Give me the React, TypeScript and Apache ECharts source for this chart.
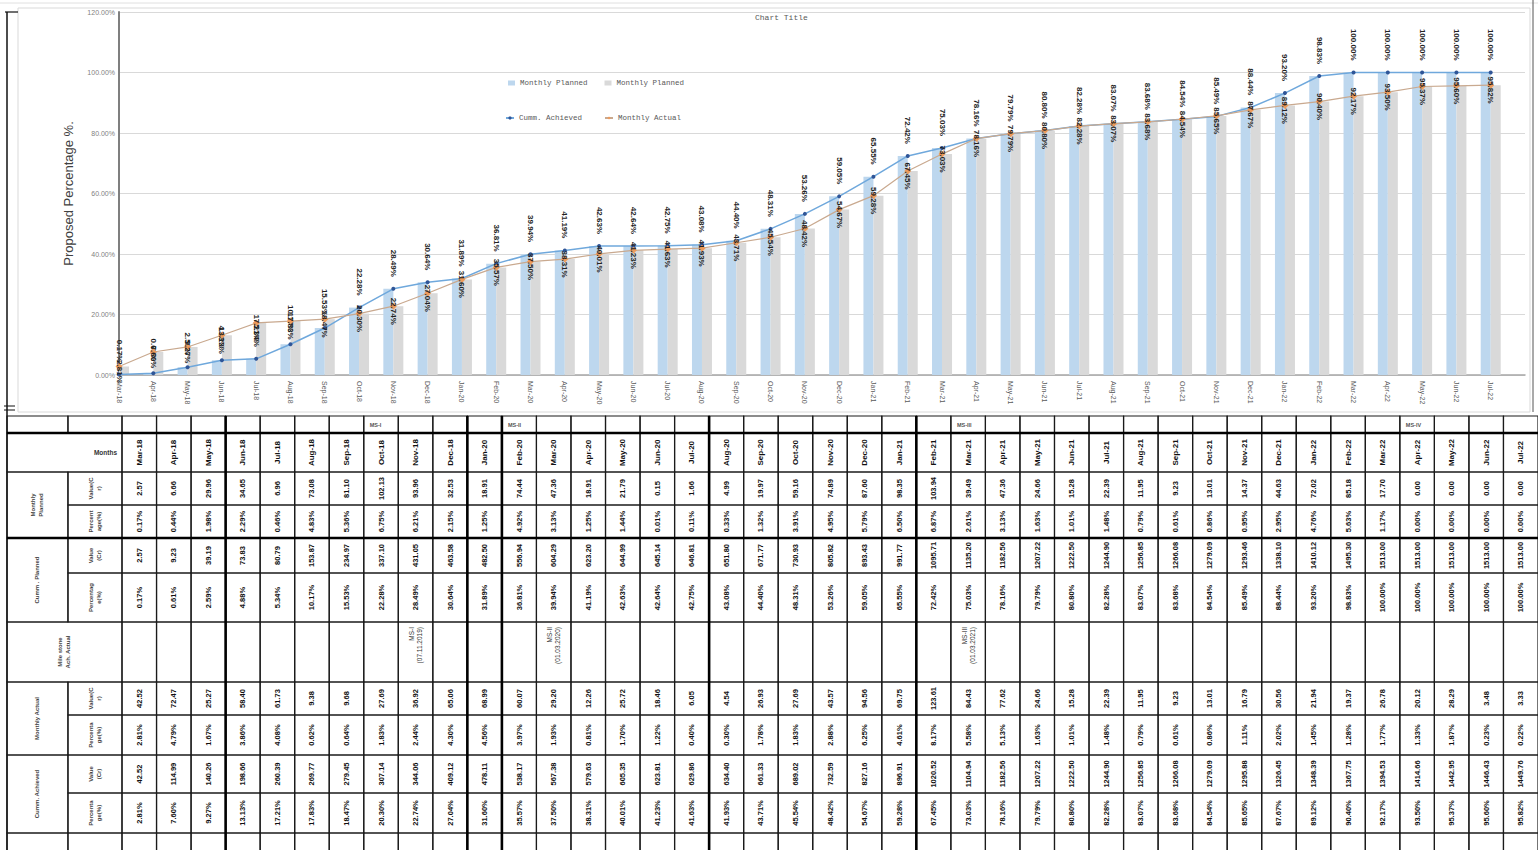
import React, { useEffect, useRef } from "react";
import * as echarts from "echarts";

// ---------- data ----------
const months = ["Mar-18","Apr-18","May-18","Jun-18","Jul-18","Aug-18","Sep-18","Oct-18","Nov-18","Dec-18","Jan-20","Feb-20","Mar-20","Apr-20","May-20","Jun-20","Jul-20","Aug-20","Sep-20","Oct-20","Nov-20","Dec-20","Jan-21","Feb-21","Mar-21","Apr-21","May-21","Jun-21","Jul-21","Aug-21","Sep-21","Oct-21","Nov-21","Dec-21","Jan-22","Feb-22","Mar-22","Apr-22","May-22","Jun-22","Jul-22"];

const cummPlannedPct = [0.17,0.61,2.59,4.88,5.34,10.17,15.53,22.28,28.49,30.64,31.89,36.81,39.94,41.19,42.63,42.64,42.75,43.08,44.40,48.31,53.26,59.05,65.55,72.42,75.03,78.16,79.79,80.80,82.28,83.07,83.68,84.54,85.49,88.44,93.20,98.83,100,100,100,100,100];
const cummAchievedPct = [2.81,7.60,9.27,13.13,17.21,17.83,18.47,20.30,22.74,27.04,31.60,35.57,37.50,38.31,40.01,41.23,41.63,41.93,43.71,45.54,48.42,54.67,59.28,67.45,73.03,78.16,79.79,80.80,82.28,83.07,83.68,84.54,85.65,87.67,89.12,90.40,92.17,93.50,95.37,95.60,95.82];

const monthlyPlannedValue = [2.57,6.66,29.96,34.65,6.96,73.08,81.10,102.13,93.96,32.53,18.91,74.44,47.36,18.91,21.79,0.15,1.66,4.99,19.97,59.16,74.89,87.60,98.35,103.94,39.49,47.36,24.66,15.28,22.39,11.95,9.23,13.01,14.37,44.63,72.02,85.18,17.70,0,0,0,0];
const monthlyPlannedPct = [0.17,0.44,1.98,2.29,0.46,4.83,5.36,6.75,6.21,2.15,1.25,4.92,3.13,1.25,1.44,0.01,0.11,0.33,1.32,3.91,4.95,5.79,6.50,6.87,2.61,3.13,1.63,1.01,1.48,0.79,0.61,0.86,0.95,2.95,4.76,5.63,1.17,0,0,0,0];
const cummPlannedValue = [2.57,9.23,39.19,73.83,80.79,153.87,234.97,337.10,431.05,463.58,482.50,556.94,604.29,623.20,644.99,645.14,646.81,651.80,671.77,730.93,805.82,893.43,991.77,1095.71,1135.20,1182.56,1207.22,1222.50,1244.90,1256.85,1266.08,1279.09,1293.46,1338.10,1410.12,1495.30,1513.00,1513.00,1513.00,1513.00,1513.00];
const monthlyActualValue = [42.52,72.47,25.27,58.40,61.73,9.38,9.68,27.69,36.92,65.06,68.99,60.07,29.20,12.26,25.72,18.46,6.05,4.54,26.93,27.69,43.57,94.56,69.75,123.61,84.43,77.62,24.66,15.28,22.39,11.95,9.23,13.01,16.79,30.56,21.94,19.37,26.78,20.12,28.29,3.48,3.33];
const monthlyActualPct = [2.81,4.79,1.67,3.86,4.08,0.62,0.64,1.83,2.44,4.30,4.56,3.97,1.93,0.81,1.70,1.22,0.40,0.30,1.78,1.83,2.88,6.25,4.61,8.17,5.58,5.13,1.63,1.01,1.48,0.79,0.61,0.86,1.11,2.02,1.45,1.28,1.77,1.33,1.87,0.23,0.22];
const cummAchievedValue = [42.52,114.99,140.26,198.66,260.39,269.77,279.45,307.14,344.06,409.12,478.11,538.17,567.38,579.63,605.35,623.81,629.86,634.40,661.33,689.02,732.59,827.16,896.91,1020.52,1104.94,1182.56,1207.22,1222.50,1244.90,1256.85,1266.08,1279.09,1295.88,1326.45,1348.39,1367.75,1394.53,1414.66,1442.95,1446.43,1449.76];

const milestoneCols = [8, 12, 24];
const milestoneLabels = ["MS-I\n(07.11.2019)", "MS-II\n(01.03.2020)", "MS-III\n(01.03.2021)"];
const phaseCols = [7, 11, 24, 37];
const phaseLabels = ["MS-I", "MS-II", "MS-III", "MS-IV"];

// ---------- table layout (not data) ----------
const ROW_EDGES = [0, 17, 56, 89, 122, 157, 206, 266, 299, 339, 377, 417, 454];
const THICK_COLS = [3, 10, 11, 17, 23];
const THICK_ROWS = [1, 4];
const COL_A = -3.33;
const COL_B = -1.565;
const FONT = "Liberation Sans";

type Cell = { c0: number; c1: number; r0: number; r1: number; text: string; kind: string };

function buildCells(): Cell[] {
  const cells: Cell[] = [];
  const pct = (v: number) => v.toFixed(2) + "%";
  const num = (v: number) => v.toFixed(2);
  cells.push({ c0: COL_A, c1: COL_B, r0: 0, r1: 0, text: "", kind: "v" });
  cells.push({ c0: COL_B, c1: 0, r0: 0, r1: 0, text: "", kind: "v" });
  cells.push({ c0: COL_A, c1: 0, r0: 1, r1: 1, text: "Months", kind: "hr" });
  cells.push({ c0: COL_A, c1: COL_B, r0: 2, r1: 3, text: "Monthly\nPlanned", kind: "lab" });
  cells.push({ c0: COL_B, c1: 0, r0: 2, r1: 2, text: "Value(C\nr)", kind: "lab" });
  cells.push({ c0: COL_B, c1: 0, r0: 3, r1: 3, text: "Percent\nage(%)", kind: "lab" });
  cells.push({ c0: COL_A, c1: COL_B, r0: 4, r1: 5, text: "Cumm . Planned", kind: "lab" });
  cells.push({ c0: COL_B, c1: 0, r0: 4, r1: 4, text: "Value\n(Cr)", kind: "lab" });
  cells.push({ c0: COL_B, c1: 0, r0: 5, r1: 5, text: "Percentag\ne(%)", kind: "lab" });
  cells.push({ c0: COL_A, c1: 0, r0: 6, r1: 6, text: "Mile stone\nAch. Actual", kind: "lab" });
  cells.push({ c0: COL_A, c1: COL_B, r0: 7, r1: 8, text: "Monthly Actual", kind: "lab" });
  cells.push({ c0: COL_B, c1: 0, r0: 7, r1: 7, text: "Value(C\nr)", kind: "lab" });
  cells.push({ c0: COL_B, c1: 0, r0: 8, r1: 8, text: "Percenta\nge(%)", kind: "lab" });
  cells.push({ c0: COL_A, c1: COL_B, r0: 9, r1: 10, text: "Cumm. Achieved", kind: "lab" });
  cells.push({ c0: COL_B, c1: 0, r0: 9, r1: 9, text: "Value\n(Cr)", kind: "lab" });
  cells.push({ c0: COL_B, c1: 0, r0: 10, r1: 10, text: "Percenta\nge(%)", kind: "lab" });
  cells.push({ c0: COL_A, c1: COL_B, r0: 11, r1: 11, text: "", kind: "v" });
  cells.push({ c0: COL_B, c1: 0, r0: 11, r1: 11, text: "", kind: "v" });
  months.forEach((m, i) => {
    const pIdx = phaseCols.indexOf(i);
    const mIdx = milestoneCols.indexOf(i);
    const rows: [string, string][] = [
      [pIdx >= 0 ? phaseLabels[pIdx] : "", "hl"],
      [m, "m"],
      [num(monthlyPlannedValue[i]), "v"],
      [pct(monthlyPlannedPct[i]), "v"],
      [num(cummPlannedValue[i]), "v"],
      [pct(cummPlannedPct[i]), "v"],
      [mIdx >= 0 ? milestoneLabels[mIdx] : "", "ms"],
      [num(monthlyActualValue[i]), "v"],
      [pct(monthlyActualPct[i]), "v"],
      [num(cummAchievedValue[i]), "v"],
      [pct(cummAchievedPct[i]), "v"],
      ["", "v"],
    ];
    rows.forEach(([t, k], r) => cells.push({ c0: i, c1: i + 1, r0: r, r1: r, text: t, kind: k }));
  });
  return cells;
}

export default function App() {
  const ref = useRef<HTMLDivElement>(null);
  useEffect(() => {
    document.body.style.margin = "0";
    if (!ref.current) return;
    const chart = echarts.init(ref.current, undefined, { renderer: "svg" });
    const cells = buildCells();
    const cats = [...months, ""];

    const renderCell = (params: any, api: any) => {
      const c = cells[params.dataIndex];
      const p0 = api.coord([c.c0, ROW_EDGES[c.r0]]);
      const p1 = api.coord([c.c1, ROW_EDGES[c.r1 + 1]]);
      const x = p0[0], y = p0[1], w = p1[0] - p0[0], h = p1[1] - p0[1];
      const children: any[] = [
        { type: "rect", shape: { x, y, width: w, height: h }, style: { fill: "none", stroke: "#1a1a1a", lineWidth: 1.2 } },
      ];
      if (c.text) {
        if (c.kind === "v" || c.kind === "m") {
          children.push({ type: "text", x: x + w / 2, y: y + h / 2, rotation: Math.PI / 2,
            style: { text: c.text, align: "center", verticalAlign: "middle", fontSize: c.kind === "m" ? 8 : 7.5, fontWeight: "bold", fontFamily: FONT, fill: "#111" } });
        } else if (c.kind === "lab") {
          children.push({ type: "text", x: x + w / 2, y: y + h / 2, rotation: Math.PI / 2,
            style: { text: c.text, align: "center", verticalAlign: "middle", fontSize: 6, lineHeight: 8, fontWeight: "bold", fontFamily: FONT, fill: "#444" } });
        } else if (c.kind === "ms") {
          children.push({ type: "text", x: x + w / 2, y: y + 5, rotation: Math.PI / 2,
            style: { text: c.text, align: "right", verticalAlign: "middle", fontSize: 6.5, lineHeight: 8, fontFamily: FONT, fill: "#333" } });
        } else if (c.kind === "hl") {
          children.push({ type: "text", x: x + 6, y: y + h / 2,
            style: { text: c.text, align: "left", verticalAlign: "middle", fontSize: 5.5, fontWeight: "bold", fontFamily: FONT, fill: "#555" } });
        } else if (c.kind === "hr") {
          children.push({ type: "text", x: x + w - 5, y: y + h / 2,
            style: { text: c.text, align: "right", verticalAlign: "middle", fontSize: 6.5, fontWeight: "bold", fontFamily: FONT, fill: "#333" } });
        }
      }
      return { type: "group", children };
    };

    const renderThickCol = (params: any, api: any) => {
      const p0 = api.coord([api.value(0), 0]);
      const p1 = api.coord([api.value(0), ROW_EDGES[ROW_EDGES.length - 1]]);
      return { type: "line", shape: { x1: p0[0], y1: p0[1], x2: p1[0], y2: p1[1] }, style: { stroke: "#000", lineWidth: 2.6 } };
    };
    const renderThickRow = (params: any, api: any) => {
      const p0 = api.coord([COL_A, ROW_EDGES[api.value(0)]]);
      const p1 = api.coord([months.length, ROW_EDGES[api.value(0)]]);
      return { type: "line", shape: { x1: p0[0], y1: p0[1], x2: p1[0], y2: p1[1] }, style: { stroke: "#000", lineWidth: 2.6 } };
    };

    const option: any = {
      animation: false,
      backgroundColor: "#ffffff",
      title: { text: "Chart Title", left: 750, top: 8, textStyle: { fontSize: 8, fontWeight: "normal", color: "#595959", fontFamily: "Liberation Mono" } },
      legend: [
        { data: ["Monthly Planned", "Monthly Planned "], left: 503, top: 74, itemWidth: 7, itemHeight: 5, itemGap: 17, icon: "rect",
          textStyle: { fontSize: 7.5, color: "#595959", fontFamily: "Liberation Mono" } },
        { data: ["Cumm. Achieved", "Monthly Actual"], left: 500, top: 109, itemWidth: 8, itemHeight: 4, itemGap: 22,
          textStyle: { fontSize: 7.5, color: "#595959", fontFamily: "Liberation Mono" } },
      ],
      grid: [
        { left: 119, right: 13, top: 12, height: 363, containLabel: false },
        { left: 122, right: 0, top: 416, height: 434, containLabel: false },
      ],
      xAxis: [
        { type: "category", data: cats, boundaryGap: false, gridIndex: 0,
          axisLine: { lineStyle: { color: "#a6a6a6", width: 1.5 } }, axisTick: { show: false },
          axisLabel: { rotate: -90, fontSize: 7, color: "#595959", margin: 6, interval: 0, fontFamily: FONT } },
        { type: "value", gridIndex: 1, min: 0, max: 41, show: false },
      ],
      yAxis: [
        { type: "value", gridIndex: 0, min: 0, max: 120, interval: 20,
          name: "Proposed Percentage %.", nameLocation: "middle", nameGap: 44, nameRotate: 90,
          nameTextStyle: { fontSize: 13, color: "#404040", fontFamily: FONT },
          axisLine: { show: true, lineStyle: { color: "#7f7f7f", width: 2 } }, axisTick: { show: false },
          axisLabel: { fontSize: 7, color: "#7f7f7f", margin: 4, fontFamily: FONT, formatter: (v: number) => v.toFixed(2) + "%" },
          splitLine: { lineStyle: { color: "#d9d9d9", width: 1 } } },
        { type: "value", gridIndex: 1, min: 0, max: 434, inverse: true, show: false },
      ],
      series: [
        { name: "Monthly Planned", type: "bar", data: cummPlannedPct, barWidth: 10, barGap: "0%", clip: false,
          itemStyle: { color: "#bdd7ee" }, xAxisIndex: 0, yAxisIndex: 0 },
        { name: "Monthly Planned ", type: "bar", data: cummAchievedPct, barWidth: 10, barGap: "0%", clip: false,
          itemStyle: { color: "#d9d9d9" }, xAxisIndex: 0, yAxisIndex: 0 },
        { name: "Cumm. Achieved", type: "line", data: cummPlannedPct, symbol: "circle", symbolSize: 4,
          lineStyle: { color: "#6fa8dc", width: 1.5 }, itemStyle: { color: "#2f5597" }, z: 5,
          label: { show: true, position: "top", distance: 6, rotate: -90, align: "right", verticalAlign: "middle", offset: [-4, 0],
            fontSize: 8, fontWeight: "bold", color: "#222", fontFamily: FONT, formatter: (p: any) => p.value.toFixed(2) + "%" } },
        { name: "Monthly Actual", type: "line", data: cummAchievedPct, symbol: "diamond", symbolSize: 7,
          lineStyle: { color: "#c9a98f", width: 1.2 }, itemStyle: { color: "#ed9a5b" }, z: 6,
          label: { show: true, position: "inside", rotate: -90, align: "center", verticalAlign: "middle", offset: [5, 0],
            fontSize: 8, fontWeight: "bold", color: "#222", fontFamily: FONT, formatter: (p: any) => p.value.toFixed(2) + "%" } },
        { name: "table", type: "custom", xAxisIndex: 1, yAxisIndex: 1, coordinateSystem: "cartesian2d",
          data: cells.map((c) => [c.c0, ROW_EDGES[c.r0]]), renderItem: renderCell, silent: true, clip: false },
        { name: "thickCols", type: "custom", xAxisIndex: 1, yAxisIndex: 1, coordinateSystem: "cartesian2d",
          data: THICK_COLS.map((c) => [c, 0]), renderItem: renderThickCol, silent: true, clip: false, z: 3 },
        { name: "thickRows", type: "custom", xAxisIndex: 1, yAxisIndex: 1, coordinateSystem: "cartesian2d",
          data: THICK_ROWS.map((r) => [r, 0]), renderItem: renderThickRow, silent: true, clip: false, z: 3 },
      ],
      graphic: [
        { type: "rect", shape: { x: 18, y: 8, width: 1512, height: 404 }, style: { fill: "none", stroke: "#d9d9d9", lineWidth: 1 }, z: -1 },
        { type: "line", shape: { x1: 0, y1: 3, x2: 1538, y2: 3 }, style: { stroke: "#e0e0e0", lineWidth: 1 } },
        { type: "line", shape: { x1: 7, y1: 12, x2: 7, y2: 850 }, style: { stroke: "#111", lineWidth: 1.5 } },
        { type: "line", shape: { x1: 5, y1: 12, x2: 18, y2: 12 }, style: { stroke: "#111", lineWidth: 1.2 } },
        { type: "line", shape: { x1: 4, y1: 406, x2: 15, y2: 406 }, style: { stroke: "#111", lineWidth: 1 } },
        { type: "line", shape: { x1: 4, y1: 410, x2: 15, y2: 410 }, style: { stroke: "#111", lineWidth: 1 } },
        { type: "line", shape: { x1: 1533, y1: 0, x2: 1533, y2: 412 }, style: { stroke: "#555", lineWidth: 1 } },
      ],
    };
    chart.setOption(option);
    return () => chart.dispose();
  }, []);
  return <div ref={ref} style={{ width: 1538, height: 850 }} />;
}
